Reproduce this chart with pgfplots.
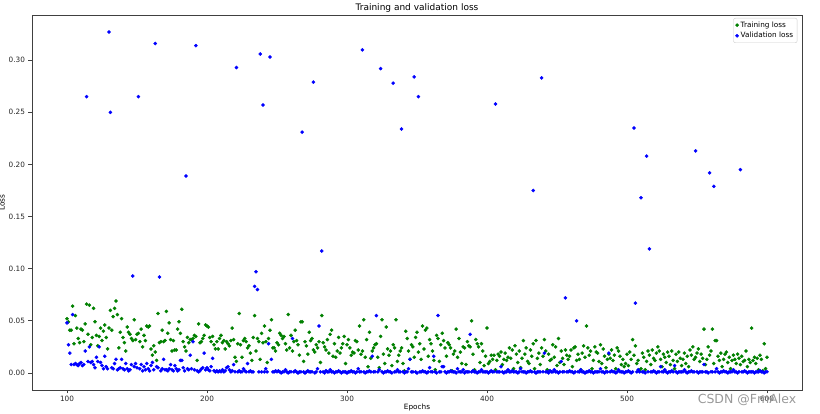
\documentclass[border=0pt]{standalone}
\usepackage{fontspec}
\setmainfont{DejaVu Sans}
\usepackage{pgfplots}
\pgfplotsset{compat=1.18}
\usepackage{pgfplotstable}
\definecolor{mplgreen}{rgb}{0,0.5,0}
\definecolor{mplblue}{rgb}{0,0,1}
\pgfplotstableread{
ep tr va
100 0.052 0.048
101 0.049 0.027
102 0.041 0.019
103 0.041 0.008
104 0.064 0.056
105 0.028 0.008
106 0.055 0.009
107 0.043 0.008
108 0.033 0.007
109 0.029 0.009
110 0.042 0.010
111 0.041 0.007
112 0.030 0.008
113 0.047 0.021
114 0.066 0.265
115 0.037 0.011
116 0.065 0.025
117 0.027 0.010
118 0.034 0.011
119 0.062 0.008
120 0.049 0.005
121 0.036 0.015
122 0.026 0.011
123 0.035 0.025
124 0.043 0.010
125 0.031 0.007
126 0.040 0.004
127 0.046 0.016
128 0.034 0.006
129 0.023 0.004
130 0.043 0.327
131 0.060 0.250
132 0.041 0.005
133 0.054 0.004
134 0.062 0.009
135 0.069 0.013
136 0.056 0.003
137 0.024 0.004
138 0.039 0.005
139 0.052 0.013
140 0.034 0.004
141 0.029 0.003
142 0.021 0.009
143 0.044 0.004
144 0.039 0.002
145 0.037 0.003
146 0.033 0.008
147 0.031 0.093
148 0.051 0.006
149 0.032 0.009
150 0.037 0.005
151 0.038 0.265
152 0.030 0.004
153 0.042 0.008
154 0.025 0.002
155 0.036 0.006
156 0.031 0.003
157 0.045 0.009
158 0.044 0.004
159 0.045 0.002
160 0.023 0.007
161 0.017 0.010
162 0.026 0.003
163 0.020 0.316
164 0.012 0.006
165 0.057 0.005
166 0.029 0.092
167 0.030 0.002
168 0.041 0.004
169 0.030 0.013
170 0.031 0.003
171 0.059 0.003
172 0.038 0.002
173 0.048 0.004
174 0.032 0.008
175 0.021 0.003
176 0.031 0.002
177 0.022 0.007
178 0.022 0.004
179 0.042 0.002
180 0.049 0.003
181 0.038 0.012
182 0.061 0.012
183 0.030 0.005
184 0.025 0.002
185 0.021 0.189
186 0.034 0.004
187 0.029 0.003
188 0.032 0.017
189 0.032 0.004
190 0.033 0.030
191 0.036 0.003
192 0.035 0.314
193 0.012 0.002
194 0.047 0.001
195 0.029 0.002
196 0.030 0.004
197 0.033 0.005
198 0.036 0.019
199 0.046 0.003
200 0.045 0.005
201 0.044 0.003
202 0.034 0.002
203 0.030 0.006
204 0.035 0.014
205 0.027 0.002
206 0.023 0.001
207 0.030 0.002
208 0.023 0.001
209 0.033 0.002
210 0.036 0.001
211 0.029 0.003
212 0.031 0.001
213 0.023 0.002
214 0.030 0.005
215 0.028 0.006
216 0.026 0.003
217 0.031 0.001
218 0.043 0.002
219 0.032 0.008
220 0.015 0.001
221 0.011 0.293
222 0.028 0.001
223 0.057 0.002
224 0.027 0.001
225 0.015 0.001
226 0.031 0.004
227 0.033 0.002
228 0.030 0.001
229 0.024 0.009
230 0.026 0.001
231 0.019 0.002
232 0.012 0.001
233 0.034 0.001
234 0.055 0.083
235 0.021 0.097
236 0.033 0.080
237 0.030 0.001
238 0.013 0.306
239 0.038 0.001
240 0.029 0.257
241 0.045 0.001
242 0.030 0.004
243 0.010 0.001
244 0.033 0.028
245 0.041 0.303
246 0.051 0.013
247 0.024 0.001
248 0.024 0.001
249 0.021 0.002
250 0.029 0.001
251 0.027 0.002
252 0.038 0.001
253 0.036 0.000
254 0.033 0.001
255 0.035 0.001
256 0.028 0.003
257 0.022 0.001
258 0.056 0.000
259 0.024 0.001
260 0.036 0.001
261 0.021 0.033
262 0.030 0.001
263 0.041 0.002
264 0.031 0.001
265 0.027 0.000
266 0.017 0.001
267 0.049 0.001
268 0.049 0.231
269 0.011 0.001
270 0.030 0.000
271 0.026 0.001
272 0.018 0.002
273 0.039 0.001
274 0.031 0.001
275 0.033 0.001
276 0.022 0.279
277 0.020 0.000
278 0.027 0.001
279 0.024 0.004
280 0.030 0.045
281 0.010 0.001
282 0.055 0.117
283 0.029 0.001
284 0.025 0.000
285 0.022 0.002
286 0.032 0.001
287 0.019 0.001
288 0.037 0.003
289 0.041 0.001
290 0.016 0.001
291 0.028 0.000
292 0.015 0.001
293 0.021 0.001
294 0.034 0.002
295 0.019 0.001
296 0.024 0.000
297 0.028 0.001
298 0.035 0.001
299 0.009 0.001
300 0.027 0.000
301 0.032 0.001
302 0.024 0.001
303 0.017 0.002
304 0.020 0.001
305 0.019 0.001
306 0.031 0.000
307 0.030 0.001
308 0.022 0.004
309 0.045 0.001
310 0.018 0.001
311 0.021 0.310
312 0.051 0.001
313 0.015 0.000
314 0.032 0.001
315 0.006 0.001
316 0.039 0.002
317 0.014 0.001
318 0.021 0.016
319 0.024 0.001
320 0.027 0.001
321 0.028 0.055
322 0.015 0.001
323 0.005 0.003
324 0.035 0.292
325 0.051 0.001
326 0.018 0.000
327 0.009 0.001
328 0.044 0.001
329 0.023 0.002
330 0.017 0.001
331 0.021 0.001
332 0.007 0.000
333 0.027 0.278
334 0.024 0.001
335 0.051 0.001
336 0.011 0.003
337 0.017 0.001
338 0.021 0.001
339 0.024 0.234
340 0.009 0.001
341 0.002 0.000
342 0.040 0.001
343 0.033 0.001
344 0.021 0.004
345 0.013 0.013
346 0.027 0.001
347 0.025 0.001
348 0.015 0.284
349 0.034 0.001
350 0.039 0.000
351 0.020 0.265
352 0.028 0.001
353 0.013 0.001
354 0.045 0.002
355 0.023 0.001
356 0.041 0.001
357 0.043 0.000
358 0.016 0.001
359 0.032 0.005
360 0.028 0.001
361 0.021 0.001
362 0.012 0.016
363 0.003 0.001
364 0.036 0.000
365 0.033 0.055
366 0.011 0.001
367 0.027 0.001
368 0.038 0.006
369 0.031 0.006
370 0.024 0.001
371 0.016 0.000
372 0.029 0.001
373 0.027 0.001
374 0.024 0.002
375 0.002 0.001
376 0.018 0.001
377 0.021 0.001
378 0.042 0.000
379 0.015 0.004
380 0.033 0.001
381 0.020 0.001
382 0.009 0.001
383 0.025 0.003
384 0.024 0.000
385 0.008 0.001
386 0.030 0.001
387 0.026 0.001
388 0.025 0.037
389 0.050 0.001
390 0.018 0.002
391 0.003 0.001
392 0.032 0.001
393 0.028 0.000
394 0.025 0.001
395 0.010 0.001
396 0.028 0.003
397 0.021 0.001
398 0.007 0.001
399 0.016 0.001
400 0.043 0.001
401 0.009 0.000
402 0.011 0.001
403 0.017 0.002
404 0.013 0.001
405 0.017 0.001
406 0.003 0.258
407 0.012 0.001
408 0.018 0.001
409 0.016 0.001
410 0.020 0.006
411 0.008 0.001
412 0.013 0.000
413 0.019 0.001
414 0.012 0.001
415 0.015 0.003
416 0.024 0.001
417 0.014 0.001
418 0.022 0.002
419 0.004 0.001
420 0.026 0.001
421 0.018 0.001
422 0.010 0.000
423 0.021 0.001
424 0.005 0.004
425 0.014 0.001
426 0.031 0.001
427 0.018 0.001
428 0.024 0.000
429 0.011 0.001
430 0.009 0.001
431 0.022 0.002
432 0.016 0.001
433 0.028 0.175
434 0.004 0.001
435 0.031 0.000
436 0.014 0.001
437 0.019 0.001
438 0.008 0.001
439 0.024 0.283
440 0.016 0.001
441 0.032 0.019
442 0.021 0.001
443 0.003 0.001
444 0.018 0.000
445 0.012 0.002
446 0.013 0.001
447 0.027 0.001
448 0.015 0.003
449 0.025 0.001
450 0.007 0.001
451 0.033 0.000
452 0.010 0.001
453 0.021 0.011
454 0.014 0.001
455 0.008 0.001
456 0.022 0.072
457 0.017 0.001
458 0.013 0.001
459 0.016 0.002
460 0.022 0.001
461 0.006 0.001
462 0.024 0.000
463 0.025 0.001
464 0.012 0.050
465 0.018 0.001
466 0.013 0.001
467 0.003 0.003
468 0.019 0.001
469 0.026 0.001
470 0.015 0.000
471 0.045 0.001
472 0.024 0.001
473 0.017 0.002
474 0.021 0.001
475 0.004 0.001
476 0.012 0.000
477 0.025 0.001
478 0.020 0.001
479 0.019 0.001
480 0.011 0.001
481 0.027 0.004
482 0.009 0.001
483 0.023 0.001
484 0.016 0.000
485 0.005 0.001
486 0.013 0.001
487 0.018 0.019
488 0.014 0.001
489 0.022 0.002
490 0.012 0.001
491 0.017 0.001
492 0.004 0.000
493 0.024 0.001
494 0.021 0.003
495 0.016 0.001
496 0.008 0.001
497 0.013 0.001
498 0.006 0.000
499 0.009 0.001
500 0.018 0.001
501 0.007 0.002
502 0.020 0.001
503 0.013 0.000
504 0.032 0.001
505 0.017 0.235
506 0.026 0.067
507 0.009 0.001
508 0.012 0.003
509 0.002 0.001
510 0.004 0.168
511 0.019 0.001
512 0.015 0.001
513 0.003 0.000
514 0.011 0.208
515 0.021 0.001
516 0.017 0.119
517 0.008 0.001
518 0.022 0.001
519 0.014 0.002
520 0.012 0.001
521 0.019 0.000
522 0.025 0.001
523 0.021 0.001
524 0.013 0.006
525 0.006 0.001
526 0.018 0.001
527 0.015 0.003
528 0.010 0.001
529 0.020 0.000
530 0.016 0.001
531 0.008 0.001
532 0.021 0.002
533 0.012 0.001
534 0.004 0.007
535 0.018 0.001
536 0.011 0.000
537 0.020 0.001
538 0.014 0.001
539 0.007 0.001
540 0.013 0.001
541 0.019 0.003
542 0.009 0.001
543 0.016 0.000
544 0.006 0.001
545 0.022 0.001
546 0.017 0.002
547 0.025 0.001
548 0.013 0.001
549 0.015 0.213
550 0.019 0.001
551 0.023 0.000
552 0.011 0.001
553 0.018 0.001
554 0.014 0.001
555 0.042 0.008
556 0.008 0.001
557 0.013 0.001
558 0.025 0.000
559 0.017 0.192
560 0.021 0.001
561 0.042 0.001
562 0.009 0.179
563 0.031 0.001
564 0.031 0.004
565 0.016 0.001
566 0.012 0.000
567 0.019 0.001
568 0.006 0.001
569 0.013 0.002
570 0.018 0.001
571 0.020 0.001
572 0.010 0.000
573 0.015 0.001
574 0.004 0.001
575 0.012 0.001
576 0.017 0.003
577 0.013 0.001
578 0.009 0.001
579 0.018 0.000
580 0.014 0.001
581 0.008 0.195
582 0.016 0.001
583 0.011 0.001
584 0.012 0.002
585 0.021 0.001
586 0.006 0.000
587 0.013 0.001
588 0.010 0.001
589 0.043 0.001
590 0.012 0.001
591 0.015 0.000
592 0.009 0.001
593 0.014 0.001
594 0.003 0.001
595 0.017 0.002
596 0.013 0.001
597 0.002 0.001
598 0.028 0.000
599 0.004 0.001
600 0.015 0.001
}\losstable

\begin{document}
\begin{tikzpicture}
\path[use as bounding box] (-32pt,-24pt) rectangle (788pt,390pt);
\begin{axis}[
  at={(0pt,0pt)}, anchor=south west,
  scale only axis, width=770pt, height=375pt,
  xmin=75, xmax=625, ymin=-0.0164, ymax=0.3434,
  xtick={100,200,300,400,500,600},
  xticklabels={100,200,300,400,500,600},
  ytick={0,0.05,0.1,0.15,0.2,0.25,0.3},
  yticklabels={0.00,0.05,0.10,0.15,0.20,0.25,0.30},
  tick align=outside, tick pos=left,
  major tick length=3.5pt,
  axis line style={black!75, line width=0.6pt},
  tick style={black!75, line width=0.6pt},
  ticklabel style={font=\fontsize{7.3}{8}\selectfont, text=black!85},
  xticklabel style={yshift=1pt},
  xlabel={Epochs}, ylabel={Loss},
  label style={font=\fontsize{7.3}{8}\selectfont},
  xlabel style={yshift=4pt},
  ylabel style={yshift=-3pt},
  title={Training and validation loss},
  title style={font=\fontsize{9}{10}\selectfont, yshift=-7pt},
  legend pos=north east,
  legend style={font=\fontsize{7.3}{8.5}\selectfont, draw=black!20, rounded corners=2pt,
    fill=white, inner xsep=2pt, inner ysep=1.5pt, row sep=-0.5pt,
    at={(0.994,0.992)}, anchor=north east},
  legend cell align=left,
]
\addplot[only marks, mark=*, mark size=1.6pt, color=mplgreen] table[x=ep, y=tr] {\losstable};
\addlegendentry{Training loss}
\addplot[only marks, mark=*, mark size=1.6pt, color=mplblue] table[x=ep, y=va] {\losstable};
\addlegendentry{Validation loss}
\end{axis}
\node[text=black!40, font=\fontsize{12.5}{14}\selectfont] at (715pt,-10pt) {CSDN @FmAlex};
\end{tikzpicture}
\end{document}
